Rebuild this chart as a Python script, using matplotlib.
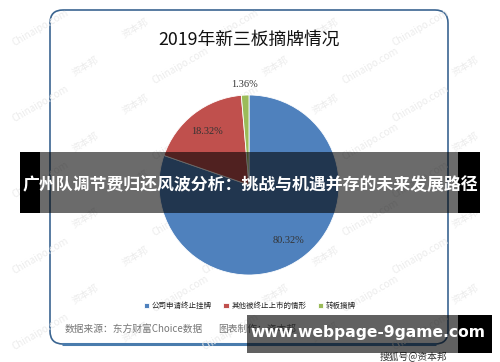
import numpy as np
import matplotlib
matplotlib.use("Agg")
import matplotlib.pyplot as plt
from matplotlib.patches import FancyBboxPatch, Rectangle

plt.rcParams['font.family'] = ['Noto Sans CJK SC', 'DejaVu Sans']

# data
title = "2019年新三板摘牌情况"
categories = ["公司申请终止挂牌", "其他被终止上市的情形", "转板摘牌"]
shares = [80.32, 18.32, 1.36]
colors = ["#4f81bd", "#c0504d", "#9bbb59"]
source_text = "数据来源：东方财富Choice数据"
maker_text = "图表制作：资本邦"
banner_text = "广州队调节费归还风波分析：挑战与机遇并存的未来发展路径"
site_text = "www.webpage-9game.com"

W, H = 500, 362
fig = plt.figure(figsize=(W / 100, H / 100), dpi=100)

# background layer in pixel coordinates
bg = fig.add_axes([0, 0, 1, 1], zorder=0)
bg.set_xlim(0, W)
bg.set_ylim(H, 0)
bg.axis('off')

# faint diagonal watermarks
for row, yy in enumerate(range(28, 340, 38)):
    for col, xx in enumerate(range(40, 470, 95)):
        wm = "Chinaipo.com" if (row + col) % 2 == 0 else "资本邦"
        bg.text(xx + (row % 2) * 45, yy, wm, fontsize=7, color="#ececec",
                rotation=30, ha='center', va='center')

frame = FancyBboxPatch((50, 10), 398, 334, boxstyle="round,pad=0,rounding_size=13",
                       fill=False, ec="#3b6591", lw=1.2)
bg.add_patch(frame)
bg.plot([62, 436], [344, 344], color="#4a7cad", lw=2.2, solid_capstyle='butt')

bg.text(249, 40, title, fontsize=12.8, ha='center', va='center', color="#111111")
bg.text(65, 329, source_text, fontsize=7, ha='left', va='center', color="#777777")
mk = bg.text(218, 329, maker_text, fontsize=7, ha='left', va='center', color="#777777")
mk.set_clip_path(Rectangle((210, 318), 37, 22, transform=bg.transData))
bg.text(413, 356, "搜狐号@资本邦", fontsize=7, ha='center', va='center', color="#333333")

# pie
cx, cy, r = 249, 185, 90
pax = fig.add_axes([(cx - r) / W, 1 - (cy + r) / H, 2 * r / W, 2 * r / H], zorder=1)
wedges, texts, autotexts = pax.pie(shares, colors=colors, startangle=90, counterclock=False,
                                   autopct='%.2f%%', pctdistance=0.76,
                                   wedgeprops=dict(edgecolor='white', linewidth=0.6),
                                   textprops=dict(fontsize=7.5, color="#333333",
                                                  family='Liberation Serif'))
small = wedges[2]
ang = np.deg2rad((small.theta1 + small.theta2) / 2)
autotexts[2].set_position((1.12 * np.cos(ang), 1.12 * np.sin(ang)))
pax.set_xlim(-1, 1)
pax.set_ylim(-1, 1)
pax.set_aspect('auto')
pax.axis('off')

fig.legend(wedges, categories, ncol=3, frameon=False, fontsize=5.4,
           loc='center', bbox_to_anchor=(0.5, 1 - 306 / H),
           handlelength=0.7, handleheight=0.7, handletextpad=0.4, columnspacing=1.5,
           labelcolor="#222222")

# overlay layer
ov = fig.add_axes([0, 0, 1, 1], zorder=3)
ov.set_xlim(0, W)
ov.set_ylim(H, 0)
ov.axis('off')
ov.patch.set_alpha(0)

ov.add_patch(Rectangle((20, 152), 20, 61, color='black', lw=0))
ov.add_patch(Rectangle((458, 152), 22, 61, color='black', lw=0))
ov.add_patch(Rectangle((40, 152), 418, 61, color='black', alpha=0.58, lw=0))
ov.text(250, 185, banner_text, fontsize=12.2, fontweight='bold', color='white',
        ha='center', va='center')

ov.add_patch(Rectangle((247, 315), 211, 38, color='black', alpha=0.62, lw=0))
ov.add_patch(Rectangle((458, 315), 34, 38, color='black', lw=0))
ov.text(368, 333, site_text, fontsize=11.2, fontweight='bold', color='white',
        ha='center', va='center', family='DejaVu Sans')

fig.savefig("out.png", dpi=100)
